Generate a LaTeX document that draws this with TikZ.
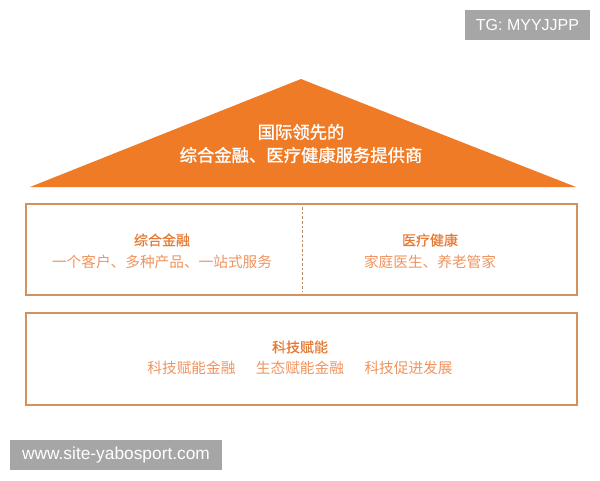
\documentclass[tikz,border=0pt]{standalone}
\usepackage{fontspec}
\newfontfamily\cjk{Noto Sans CJK SC}
\newfontfamily\cjkb[FakeBold=1.2]{Noto Sans CJK SC}
\newfontfamily\cjkm[FakeBold=0.5]{Noto Sans CJK SC}
\setmainfont{Liberation Sans}
\definecolor{roof}{HTML}{F07B26}
\definecolor{boxline}{HTML}{D3915E}
\definecolor{ttl}{HTML}{E57A32}
\definecolor{sub}{HTML}{EE9460}
\definecolor{tag}{HTML}{A6A6A6}
\tikzset{
  panel/.style={draw=boxline, line width=1.4pt},
  ttltext/.style={text=ttl, font=\cjkm\fontsize{10.5}{12}\selectfont, inner sep=0pt},
  subtext/.style={text=sub, font=\cjk\fontsize{11}{13}\selectfont, inner sep=0pt},
  rooftext/.style={text=white, font=\cjkb\fontsize{13}{16}\selectfont, inner sep=0pt},
  tagbox/.style={text=white, inner sep=0pt, anchor=center}
}
\begin{document}
\begin{tikzpicture}[x=0.75pt,y=-0.75pt]
\useasboundingbox (0,0) rectangle (600,480);
% roof
\fill[roof] (30,187) coordinate (rl) -- (301,79) coordinate (ra) -- (576,187) coordinate (rr) -- cycle;
\node[rooftext] (r1) at (301,132) {国际领先的};
\node[rooftext] (r2) at (301,155) {综合金融、医疗健康服务提供商};
% box 1
\draw[panel] (26,204) rectangle (577,295);
\coordinate (dt) at (302,207);
\coordinate (db) at (302,292);
\draw[boxline!70!gray, line width=0.6pt, dash pattern=on 2pt off 1.5pt] (dt) -- (db);
\node[ttltext] (a1) at (162,240) {综合金融};
\node[subtext] (a2) at (162,262) {一个客户、多种产品、一站式服务};
\node[ttltext] (b1) at (430,240) {医疗健康};
\node[subtext] (b2) at (430,262) {家庭医生、养老管家};
% box 2
\draw[panel] (26,313) rectangle (577,405);
\node[ttltext] (c1) at (300,347) {科技赋能};
\node[subtext] (c2) at (300,368) {科技赋能金融\hspace{1.4em}生态赋能金融\hspace{1.4em}科技促进发展};
% tags
\fill[tag] (465,10) rectangle (590,40);
\node[tagbox, font=\fontsize{12}{14}\selectfont] (t1) at (527.5,25) {TG: MYYJJPP};
\fill[tag] (10,440) rectangle (222,470);
\node[tagbox, font=\fontsize{13}{15}\selectfont] (t2) at (116,455) {www.site-yabosport.com};
\end{tikzpicture}
\end{document}
